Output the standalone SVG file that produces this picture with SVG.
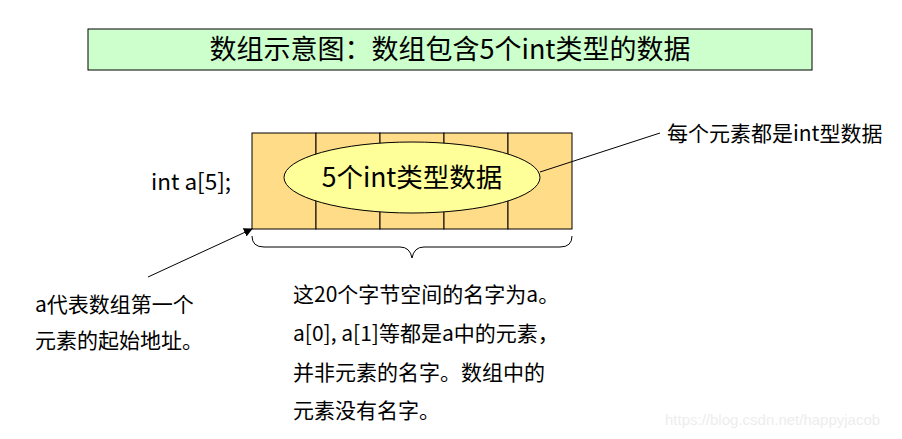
<svg xmlns="http://www.w3.org/2000/svg" width="902" height="439" viewBox="0 0 902 439">
<defs>
<style>
text{font-family:"Noto Sans CJK SC","Liberation Sans",sans-serif;fill:#000}
.cell{fill:#ffdd88;stroke:#000;stroke-width:1}
.ln{stroke:#000;stroke-width:1;fill:none}
.t20{font-size:21px}
</style>
<marker id="ah" viewBox="0 0 10 10" refX="9" refY="5" markerWidth="9" markerHeight="9" orient="auto" markerUnits="userSpaceOnUse">
<path d="M0,0 L10,5 L0,10 z" fill="#000"/>
</marker>
</defs>
<rect width="902" height="439" fill="#fff"/>
<g id="title">
<rect x="88" y="29" width="724" height="41" fill="#ccffcc" stroke="#000" stroke-width="1"/>
<text x="450" y="59" font-size="27" text-anchor="middle">数组示意图：数组包含5个int类型的数据</text>
</g>
<g id="array">
<rect class="cell" x="252" y="133" width="64" height="96"/>
<rect class="cell" x="316" y="133" width="64" height="96"/>
<rect class="cell" x="380" y="133" width="64" height="96"/>
<rect class="cell" x="444" y="133" width="64" height="96"/>
<rect class="cell" x="508" y="133" width="64" height="96"/>
</g>
<g id="ellipse">
<ellipse cx="412" cy="177.5" rx="128" ry="35.5" fill="#ffff99" stroke="#000" stroke-width="1"/>
<text x="412" y="187" font-size="26.5" text-anchor="middle">5个int类型数据</text>
</g>
<g id="decl">
<text x="151" y="190" font-size="22.5">int a[5];</text>
</g>
<g id="connectors">
<line class="ln" x1="148" y1="277" x2="252" y2="229" marker-end="url(#ah)"/>
<line class="ln" x1="540" y1="172" x2="660" y2="133"/>
<path class="ln" d="M252,236 Q252,247 264,247 L400,247 Q410,247 412,258 Q414,247 424,247 L560,247 Q572,247 572,236"/>
</g>
<g id="label-element">
<text x="667" y="141" class="t20">每个元素都是int型数据</text>
</g>
<g id="label-address">
<text x="35" y="312" class="t20">a代表数组第一个</text>
<text x="35" y="348" class="t20">元素的起始地址。</text>
</g>
<g id="label-name">
<text x="293" y="302" class="t20">这20个字节空间的名字为a。</text>
<text x="293" y="341" class="t20">a[0], a[1]等都是a中的元素，</text>
<text x="293" y="380" class="t20">并非元素的名字。数组中的</text>
<text x="293" y="418" class="t20">元素没有名字。</text>
</g>
<text x="665" y="425" font-size="15" style="fill:#ededed;font-family:'Liberation Sans',sans-serif">https://blog.csdn.net/happyjacob</text>
</svg>
